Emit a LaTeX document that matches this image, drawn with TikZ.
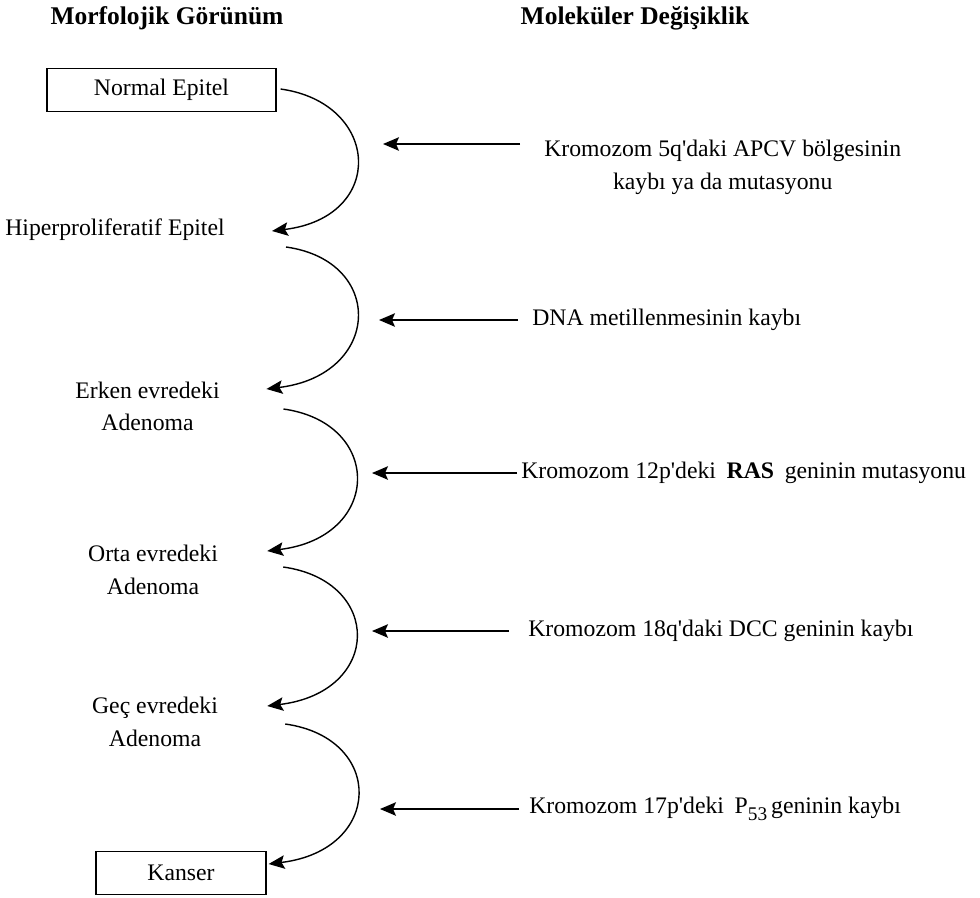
\documentclass[tikz,border=0pt]{standalone}
\usepackage{fontspec}
\setmainfont{Liberation Serif}[Ligatures=TeXOff]
\usetikzlibrary{arrows.meta,calc}

\tikzstyle{headNode} = [inner sep=0pt, font=\fontsize{14.5}{17}\selectfont\bfseries]
\tikzstyle{boxNode} = [rectangle, draw=black, line width=0.7pt, minimum height=0.86cm, text centered, font=\fontsize{13.5}{18.5}\selectfont]
\tikzstyle{stageNode} = [inner sep=0pt, align=center, font=\fontsize{13.5}{18.5}\selectfont]
\tikzstyle{geneNode} = [inner sep=0pt, align=center, anchor=west, font=\fontsize{13.5}{18.5}\selectfont]
\tikzstyle{arrow} = [line width=0.8pt, -{Stealth[length=3.2mm,width=2.7mm,inset=0.6mm]}]

\begin{document}
\begin{tikzpicture}[x=0.02cm, y=-0.02cm]
    \useasboundingbox (0,0) rectangle (980,897);

    \node (morf)[headNode] at (167,18) {Morfolojik Görünüm};
    \node (molek)[headNode] at (635,18) {Moleküler Değişiklik};

    \node (normal)[boxNode, minimum width=4.58cm] at (161.5,90) {Normal Epitel};
    \node (hiper)[stageNode] at (115,230) {Hiperproliferatif Epitel};
    \node (erken)[stageNode] at (147.5,406.5) {Erken evredeki\\Adenoma};
    \node (orta)[stageNode] at (153,570) {Orta evredeki\\Adenoma};
    \node (gec)[stageNode] at (155,722) {Geç evredeki\\Adenoma};
    \node (kanser)[boxNode, minimum width=3.4cm] at (181,873) {Kanser};

    \node (apc)[geneNode] at (544,167.5) {Kromozom 5q'daki APCV bölgesinin\\kaybı ya da mutasyonu};
    \node (dna)[geneNode] at (532,320) {DNA metillenmesinin kaybı};
    \node (ras)[geneNode] at (521,473) {Kromozom 12p'deki\hspace{0.45em}\textbf{RAS}\hspace{0.45em}geninin mutasyonu};
    \node (dcc)[geneNode] at (528,631) {Kromozom 18q'daki DCC geninin kaybı};
    \node (p53)[geneNode] at (529,809) {Kromozom 17p'deki\hspace{0.45em}P\raisebox{-0.6ex}{\fontsize{11}{11}\selectfont 53}\,geninin kaybı};

    \coordinate (hit1) at (383,144);
    \coordinate (hit2) at (379,320);
    \coordinate (hit3) at (372,473);
    \coordinate (hit4) at (372,631);
    \coordinate (hit5) at (380,809);

    \draw [arrow] ($(normal.east)+(4,-1)$) .. controls +(100,14) and +(115,-14) .. ($(hiper.east)+(47,1)$);
    \draw [arrow] ($(hiper.east)+(61,17)$) .. controls +(100,14) and +(115,-14) .. ($(erken.east)+(46.5,-17.5)$);
    \draw [arrow] ($(erken.east)+(63.5,2.5)$) .. controls +(100,14) and +(115,-14) .. ($(orta.east)+(49,-19)$);
    \draw [arrow] ($(orta.east)+(65,-3)$) .. controls +(100,14) and +(115,-14) .. ($(gec.east)+(49,-16)$);
    \draw [arrow] ($(gec.east)+(67,2)$) .. controls +(100,14) and +(115,-14) .. ($(kanser.east)+(2,-9)$);

    \draw [arrow] ($(apc.west)+(-24,-23.5)$) -- (hit1);
    \draw [arrow] ($(dna.west)+(-14,0)$) -- (hit2);
    \draw [arrow] ($(ras.west)+(-4,0)$) -- (hit3);
    \draw [arrow] ($(dcc.west)+(-19,0)$) -- (hit4);
    \draw [arrow] ($(p53.west)+(-10,0)$) -- (hit5);

  \end{tikzpicture}
\end{document}
